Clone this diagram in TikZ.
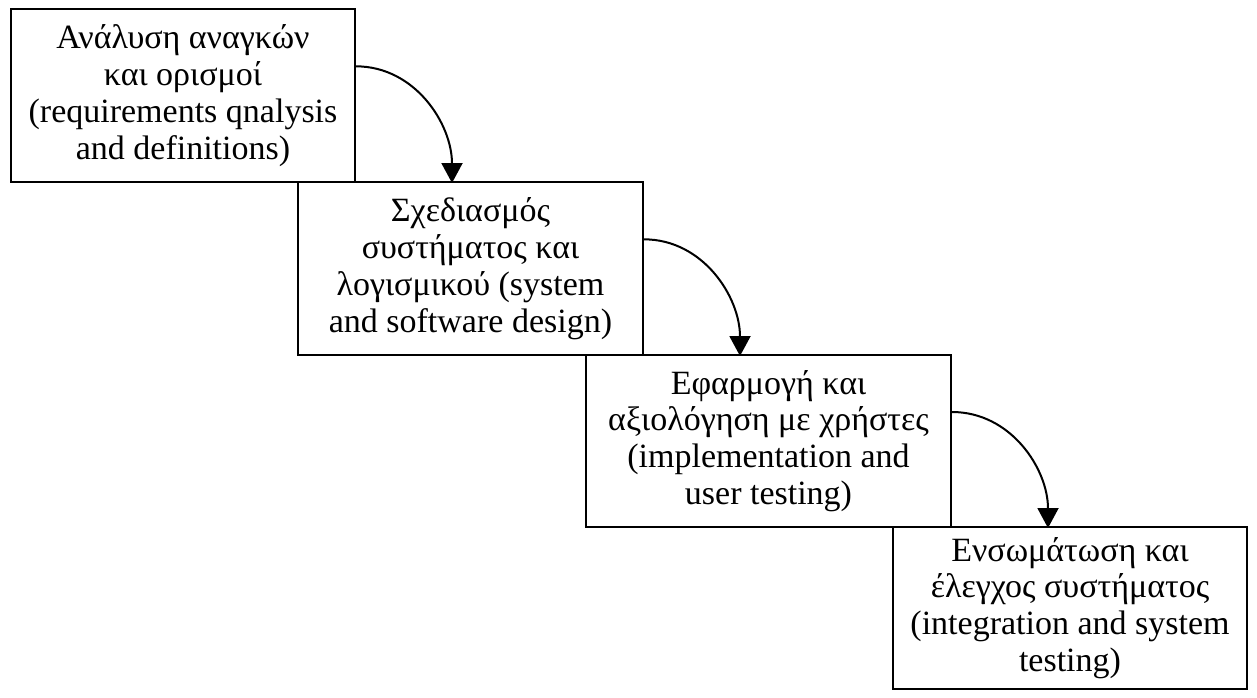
\documentclass[tikz,border=0pt]{standalone}
\usepackage{fontspec}
\setmainfont{Liberation Serif}
\usetikzlibrary{arrows.meta,calc}

\begin{document}
\begin{tikzpicture}[x=0.5pt, y=0.5pt, box/.style={rectangle, draw, line width=1pt, anchor=north west, align=center, inner sep=0pt, font=\fontsize{17}{18.4}\selectfont}, flow/.style={line width=1pt, -{Triangle[width=10.5pt, length=10pt]}}]
	\useasboundingbox (0,0) rectangle (1257,-697);
	\node[box, minimum width=172pt, minimum height=86.5pt] (b1) at (10,-8) {Ανάλυση αναγκών\\και ορισμοί\\(requirements qnalysis\\and definitions)};
	\node[box, minimum width=172.5pt, minimum height=86.5pt] (b2) at (297,-181) {Σχεδιασμός\\συστήματος και\\λογισμικού (system\\and software design)};
	\node[box, minimum width=182.5pt, minimum height=86pt] (b3) at (585,-354) {Εφαρμογή και\\αξιολόγηση με χρήστες\\(implementation and\\user testing)};
	\node[box, minimum width=177pt, minimum height=81pt] (b4) at (892,-526) {Ενσωμάτωση και\\έλεγχος συστήματος\\(integration and system\\testing)};

	\draw[flow] ($(b1.north east)!1/3!(b1.south east)$) to[out=0, in=90] ([xshift=48pt]b1.south east);
	\draw[flow] ($(b2.north east)!1/3!(b2.south east)$) to[out=0, in=90] ([xshift=48pt]b2.south east);
	\draw[flow] ($(b3.north east)!1/3!(b3.south east)$) to[out=0, in=90] ([xshift=48pt]b3.south east);
\end{tikzpicture}
\end{document}
